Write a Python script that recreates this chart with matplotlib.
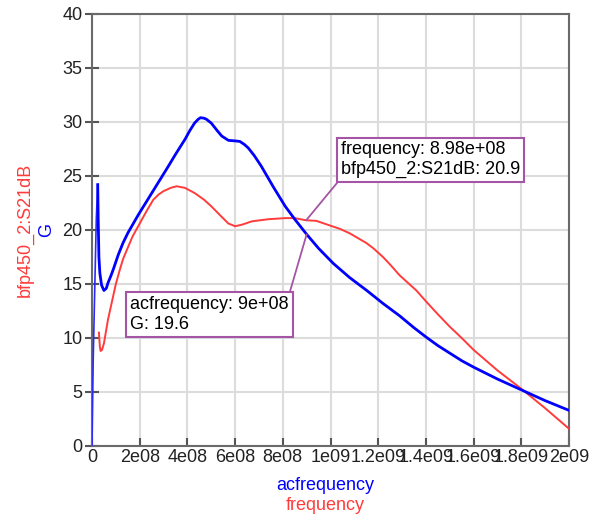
import matplotlib
matplotlib.use("Agg")
import numpy as np
from matplotlib import pyplot as plt

plt.rcParams['font.family'] = ['Liberation Sans', 'DejaVu Sans']

# G vs acfrequency (blue), frequency in units of 1e9 Hz
g_freq = [0.0, 0.005, 0.012, 0.018, 0.024, 0.026, 0.029, 0.033, 0.040, 0.050, 0.060, 0.067,
          0.08, 0.09, 0.11, 0.13, 0.151, 0.194, 0.25, 0.32, 0.35, 0.39, 0.41, 0.43, 0.445, 0.455,
          0.47, 0.48, 0.50, 0.525, 0.544, 0.572, 0.60, 0.62, 0.64, 0.655, 0.68, 0.71, 0.76,
          0.81, 0.85, 0.9, 0.95, 1.012, 1.08, 1.152, 1.22, 1.29, 1.35, 1.4, 1.45, 1.5, 1.55,
          1.6, 1.7, 1.8, 1.9, 2.0]
g_vals = [0.0, 8.0, 15.0, 21.0, 24.2, 21.0, 17.5, 16.0, 14.9, 14.4, 14.6, 15.1,
          15.8, 16.4, 17.7, 18.8, 19.75, 21.4, 23.4, 25.9, 27.0, 28.4, 29.2, 29.9, 30.25, 30.4,
          30.35, 30.25, 29.9, 29.2, 28.7, 28.3, 28.25, 28.2, 27.9, 27.6, 26.9, 25.9, 24.0,
          22.2, 21.0, 19.6, 18.3, 16.9, 15.6, 14.4, 13.2, 12.05, 10.95, 10.1, 9.3, 8.6, 7.9,
          7.3, 6.2, 5.2, 4.2, 3.3]

# bfp450_2:S21dB vs frequency (red)
s21_freq = [0.029, 0.033, 0.036, 0.042, 0.05, 0.067, 0.08, 0.1, 0.115, 0.13, 0.145, 0.17,
            0.2, 0.23, 0.257, 0.28, 0.3, 0.33, 0.355, 0.39, 0.432, 0.47, 0.50, 0.54, 0.572,
            0.60, 0.63, 0.67, 0.74, 0.81, 0.85, 0.898, 0.94, 1.0, 1.04, 1.08, 1.15, 1.18,
            1.22, 1.25, 1.29, 1.33, 1.36, 1.4, 1.45, 1.5, 1.55, 1.6, 1.7, 1.8, 1.9, 2.0]
s21_vals = [10.5, 9.2, 8.8, 8.9, 9.5, 11.7, 13.0, 15.0, 16.2, 17.3, 18.1, 19.4,
            20.6, 21.8, 22.8, 23.3, 23.6, 23.9, 24.05, 23.9, 23.4, 22.8, 22.2, 21.3, 20.6,
            20.35, 20.5, 20.8, 21.0, 21.1, 21.1, 20.9, 20.85, 20.4, 20.1, 19.7, 18.8, 18.3,
            17.5, 16.8, 15.8, 15.0, 14.4, 13.4, 12.2, 11.05, 10.0, 8.9, 7.0, 5.3, 3.5, 1.6]

x_ticks = [0, 2e8, 4e8, 6e8, 8e8, 1e9, 1.2e9, 1.4e9, 1.6e9, 1.8e9, 2e9]
x_tick_labels = ['0', '2e08', '4e08', '6e08', '8e08', '1e09', '1.2e09', '1.4e09', '1.6e09', '1.8e09', '2e09']
y_ticks = [0, 5, 10, 15, 20, 25, 30, 35, 40]

marker_s21 = (8.98e8, 20.9)
marker_g = (9e8, 19.6)

fs = 13
W, H = 592, 517
fig = plt.figure(figsize=(W / 100, H / 100), dpi=100)
ax = fig.add_axes([92 / W, 1 - 446 / H, (569 - 92) / W, (446 - 14) / H])

gx = np.array(g_freq) * 1e9
ax.plot(np.array(s21_freq) * 1e9, s21_vals, color='#ff3b3b', lw=1.4, zorder=3)
# the steep start of G draws thinner, like the reference
ax.plot(gx[:5], g_vals[:5], color='#2a2aff', lw=1.2, zorder=4)
ax.plot(gx[4:], g_vals[4:], color='#0000ff', lw=2.0, zorder=4)

ax.set_xlim(0, 2e9)
ax.set_ylim(0, 40)
ax.set_xticks(x_ticks)
ax.set_xticklabels(x_tick_labels, fontsize=fs, color='#222222')
ax.set_yticks(y_ticks)
ax.set_yticklabels([str(t) for t in y_ticks], fontsize=fs, color='#222222')
ax.tick_params(axis='x', direction='in', length=6, width=1.5, color='#555555', pad=2)
ax.tick_params(axis='y', direction='inout', length=10, width=1.5, color='#555555', pad=2)
ax.grid(True, color='#dcdcdc', lw=1.5)
ax.set_axisbelow(True)
for s in ax.spines.values():
    s.set_color('#6a6a6a')
    s.set_linewidth(1.5)

# axis titles
ax.text(-0.14, 0.5, 'bfp450_2:S21dB', color='#ff3b3b', rotation=90, fontsize=fs,
        ha='center', va='center', transform=ax.transAxes)
ax.text(-0.095, 0.5, 'G', color='#0000ff', rotation=90, fontsize=fs,
        ha='center', va='center', transform=ax.transAxes)
fig.text(325 / W, 1 - 485 / H, 'acfrequency', color='#0000ff', fontsize=fs, ha='center', va='center')
fig.text(325 / W, 1 - 506 / H, 'frequency', color='#ff3b3b', fontsize=fs, ha='center', va='center')

# marker boxes
box = dict(boxstyle='square,pad=0.22', fc='white', ec='#a555a5', lw=1.5)
ax.annotate(f'frequency: {marker_s21[0]:.2e}\nbfp450_2:S21dB: {marker_s21[1]:g}',
            xy=marker_s21, xytext=(1.044e9, 24.8), ha='left', va='bottom', fontsize=fs,
            bbox=box, zorder=6,
            arrowprops=dict(arrowstyle='-', color='#a555a5', lw=1.3, relpos=(0, 0),
                            shrinkA=0, shrinkB=0))
ax.annotate(f'acfrequency: {marker_g[0]:g}\nG: {marker_g[1]:g}',
            xy=marker_g, xytext=(0.159e9, 10.46), ha='left', va='bottom', fontsize=fs,
            bbox=box, zorder=6,
            arrowprops=dict(arrowstyle='-', color='#a555a5', lw=1.3, relpos=(1, 1),
                            shrinkA=0, shrinkB=0))

fig.savefig('out.png', dpi=100)
